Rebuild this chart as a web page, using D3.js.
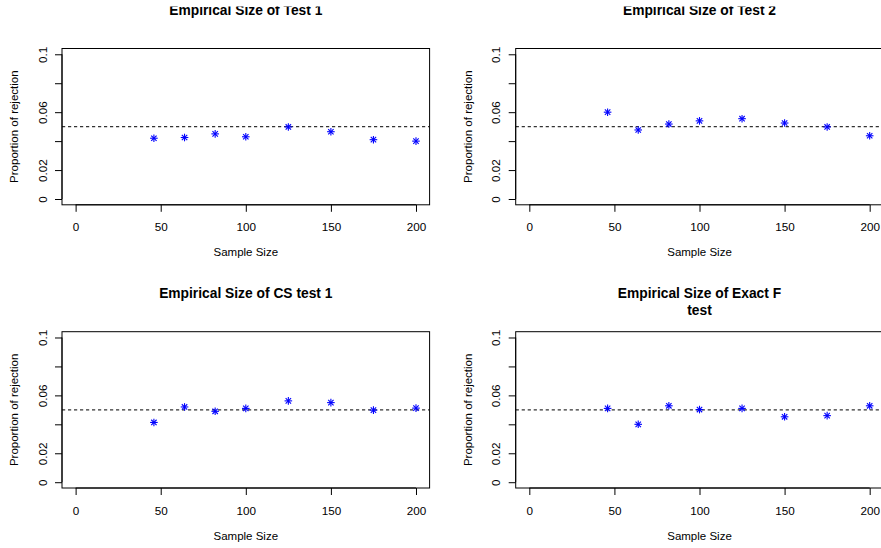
<!DOCTYPE html>
<html>
<head>
<meta charset="utf-8">
<script src="https://cdn.jsdelivr.net/npm/d3@7"></script>
<style>
  body { margin: 0; background: #fff; }
  svg { display: block; font-family: "Liberation Sans", Arial, Helvetica, sans-serif; }
</style>
</head>
<body>
<div id="chart"></div>
<script>
// Sample sizes used on the x axis of every panel
const sampleSizes = [46, 64, 82, 100, 125, 150, 175, 200];

// Proportion of rejection for each test
const test1Size = [0.042, 0.0425, 0.045, 0.043, 0.0498, 0.0465, 0.041, 0.040];
const test2Size = [0.060, 0.0477, 0.0518, 0.054, 0.0555, 0.0525, 0.0498, 0.0437];
const csTest1Size = [0.0413, 0.052, 0.049, 0.051, 0.0562, 0.055, 0.0498, 0.0512];
const exactFSize = [0.051, 0.040, 0.0528, 0.0502, 0.051, 0.0452, 0.046, 0.0528];

// Panel titles (one entry per line)
const panelTitles = [
  ["Empirical Size of Test 1"],
  ["Empirical Size of Test 2"],
  ["Empirical Size of CS test 1"],
  ["Empirical Size of Exact F", "test"],
];

// Axis ticks and labels
const xTicks = [0, 50, 100, 150, 200];
const yTicks = [0, 0.02, 0.04, 0.06, 0.08, 0.1];
const yTickLabels = ["0", "0.02", "", "0.06", "", "0.1"];
const nominalLevel = 0.05;

const width = 881;
const height = 548;

const svg = d3
  .select("#chart")
  .append("svg")
  .attr("width", width)
  .attr("height", height);

// Figure grid, like par(mfrow = c(2, 2)); the right and top edges are cropped
const colStep = 453.7;
const rowStep = 283.2;
const plotBox = { left: 62, top: 48.5, width: 367.6, height: 156.3 };

const series = [test1Size, test2Size, csTest1Size, exactFSize];

series.forEach((values, i) => {
  const col = i % 2;
  const row = Math.floor(i / 2);
  drawPanel(
    plotBox.left + col * colStep,
    plotBox.top + row * rowStep,
    values,
    panelTitles[i]
  );
});

// The source image is cut just above the top titles
svg.append("rect")
  .attr("x", 0)
  .attr("y", 0)
  .attr("width", width)
  .attr("height", 6.5)
  .attr("fill", "#fff");

// Draw one scatter panel with box, axes, titles, reference line and points
function drawPanel(x0, y0, values, title) {
  const w = plotBox.width;
  const h = plotBox.height;

  // R style 4% extension of the ranges c(0, 200) and c(0, 0.1)
  const x = d3.scaleLinear().domain([-8, 208]).range([x0, x0 + w]);
  const y = d3.scaleLinear().domain([-0.004, 0.104]).range([y0 + h, y0]);

  const g = svg.append("g");

  // Clip for things that live inside the plot region
  const clipId = "clip" + Math.round(x0) + "_" + Math.round(y0);
  g.append("clipPath")
    .attr("id", clipId)
    .append("rect")
    .attr("x", x0)
    .attr("y", y0)
    .attr("width", w)
    .attr("height", h);

  // Dashed line at the nominal level
  g.append("line")
    .attr("clip-path", `url(#${clipId})`)
    .attr("x1", x0)
    .attr("x2", x0 + w)
    .attr("y1", y(nominalLevel))
    .attr("y2", y(nominalLevel))
    .attr("stroke", "#333")
    .attr("stroke-width", 1.1)
    .attr("stroke-dasharray", "3.2,2.8");

  // Box around the plot region
  g.append("rect")
    .attr("x", x0)
    .attr("y", y0)
    .attr("width", w)
    .attr("height", h)
    .attr("fill", "none")
    .attr("stroke", "#000")
    .attr("stroke-width", 1);

  // Bottom axis
  const xAxis = g
    .append("g")
    .attr("transform", `translate(0,${y0 + h})`)
    .call(d3.axisBottom(x).tickValues(xTicks).tickSize(7).tickPadding(10));
  xAxis.select(".domain").attr("d", `M${x(0)},0H${x(200)}`).attr("stroke", "#000");
  xAxis.selectAll(".tick line").attr("stroke", "#000");
  xAxis
    .selectAll(".tick text")
    .attr("font-size", "11.7px")
    .attr("fill", "#000")
    .attr("dy", null)
    .attr("y", 22)
    .attr("dominant-baseline", "central");

  // Left axis with rotated labels
  const yAxis = g
    .append("g")
    .attr("transform", `translate(${x0},0)`)
    .call(
      d3
        .axisLeft(y)
        .tickValues(yTicks)
        .tickSize(7)
        .tickFormat((d, k) => yTickLabels[k])
    );
  yAxis.select(".domain").attr("d", `M0,${y(0)}V${y(0.1)}`).attr("stroke", "#000");
  yAxis.selectAll(".tick line").attr("stroke", "#000");
  yAxis
    .selectAll(".tick text")
    .attr("font-size", "11.7px")
    .attr("fill", "#000")
    .attr("x", null)
    .attr("dy", null)
    .attr("text-anchor", "middle")
    .attr("dominant-baseline", "central")
    .attr("transform", "translate(-20,0) rotate(-90)");

  // Axis titles
  g.append("text")
    .attr("x", x0 + w / 2)
    .attr("y", y0 + h + 47.5)
    .attr("text-anchor", "middle")
    .attr("dominant-baseline", "central")
    .attr("font-size", "11.5px")
    .text("Sample Size");

  g.append("text")
    .attr("transform", `translate(${x0 - 48},${y0 + h / 2}) rotate(-90)`)
    .attr("text-anchor", "middle")
    .attr("dominant-baseline", "central")
    .attr("font-size", "11.5px")
    .text("Proportion of rejection");

  // Main title, one text line per entry
  title.forEach((line, k) => {
    g.append("text")
      .attr("x", x0 + w / 2)
      .attr("y", y0 - 33.5 + k * 17)
      .attr("text-anchor", "middle")
      .attr("font-size", "13.8px")
      .attr("font-weight", "bold")
      .text(line);
  });

  // Asterisk points (pch = 8): a cross plus an x
  const pts = g
    .append("g")
    .selectAll("g")
    .data(sampleSizes.map((s, k) => ({ s, v: values[k] })))
    .enter()
    .append("g")
    .attr("transform", (d) => `translate(${x(d.s)},${y(d.v)})`)
    .attr("stroke", "#0000ff")
    .attr("stroke-width", 1.1);

  const a = 3.8;
  const b = 2.7;
  pts.append("line").attr("x1", -a).attr("x2", a).attr("y1", 0).attr("y2", 0);
  pts.append("line").attr("x1", 0).attr("x2", 0).attr("y1", -a).attr("y2", a);
  pts.append("line").attr("x1", -b).attr("x2", b).attr("y1", -b).attr("y2", b);
  pts.append("line").attr("x1", -b).attr("x2", b).attr("y1", b).attr("y2", -b);
}
</script>
</body>
</html>
